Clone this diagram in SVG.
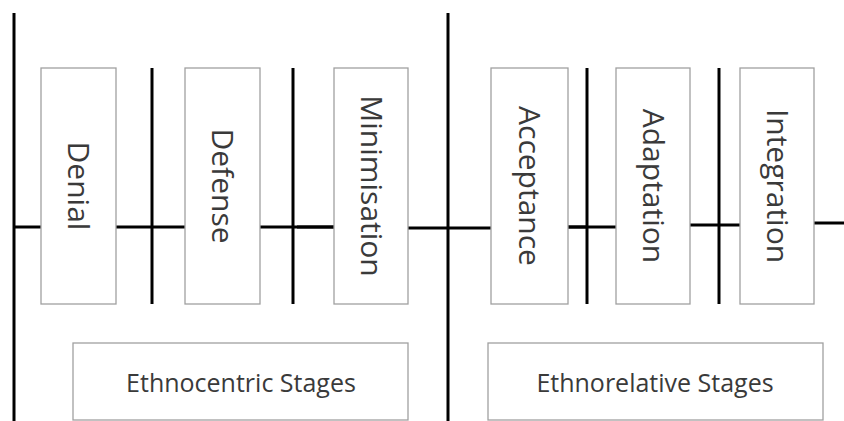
<svg xmlns="http://www.w3.org/2000/svg" width="844" height="421" viewBox="0 0 844 421">
<style>
.box{fill:#fff;stroke:#a0a0a0;stroke-width:1.3}
.ln{stroke:#000;stroke-width:3;fill:none}
.vt{font-family:"Open Sans","DejaVu Sans",sans-serif;font-size:30px;fill:#3a3a3a;text-anchor:middle}
.ht{font-family:"Open Sans","DejaVu Sans",sans-serif;font-size:25px;fill:#3a3a3a;text-anchor:middle}
</style>
<rect width="844" height="421" fill="#fff"/>
<g id="connectors">
<line class="ln" x1="14" y1="13" x2="14" y2="421"/>
<line class="ln" x1="448" y1="13" x2="448" y2="421"/>
<line class="ln" x1="152" y1="68" x2="152" y2="304"/>
<line class="ln" x1="293" y1="68" x2="293" y2="304"/>
<line class="ln" x1="587" y1="68" x2="587" y2="304"/>
<line class="ln" x1="719" y1="68" x2="719" y2="304"/>
<line class="ln" x1="14" y1="227" x2="41" y2="227"/>
<line class="ln" x1="116" y1="227" x2="185" y2="227"/>
<line class="ln" x1="260" y1="227" x2="334" y2="227"/>
<line class="ln" x1="297" y1="227" x2="334" y2="227" stroke-width="4"/>
<line class="ln" x1="408" y1="228" x2="491" y2="228"/>
<line class="ln" x1="568" y1="227" x2="616" y2="227"/>
<line class="ln" x1="568" y1="227" x2="587" y2="227" stroke-width="4"/>
<line class="ln" x1="690" y1="225" x2="740" y2="225"/>
<line class="ln" x1="814" y1="223" x2="844" y2="223"/>
</g>
<g id="denial"><rect class="box" x="41" y="68" width="75" height="236"/><text class="vt" transform="translate(68,186) rotate(90)">Denial</text></g>
<g id="defense"><rect class="box" x="185" y="68" width="75" height="236"/><text class="vt" transform="translate(212,186) rotate(90)">Defense</text></g>
<g id="minimisation"><rect class="box" x="334" y="68" width="74" height="236"/><text class="vt" transform="translate(360.5,186) rotate(90)">Minimisation</text></g>
<g id="acceptance"><rect class="box" x="491" y="68" width="77" height="236"/><text class="vt" transform="translate(519,186) rotate(90)">Acceptance</text></g>
<g id="adaptation"><rect class="box" x="616" y="68" width="74" height="236"/><text class="vt" transform="translate(642.5,186) rotate(90)">Adaptation</text></g>
<g id="integration"><rect class="box" x="740" y="68" width="74" height="236"/><text class="vt" transform="translate(766.5,186) rotate(90)">Integration</text></g>
<g id="ethnocentric"><rect class="box" x="73" y="343" width="335" height="77"/><text class="ht" x="241" y="392">Ethnocentric Stages</text></g>
<g id="ethnorelative"><rect class="box" x="488" y="343" width="335" height="77"/><text class="ht" x="655" y="392">Ethnorelative Stages</text></g>
</svg>
